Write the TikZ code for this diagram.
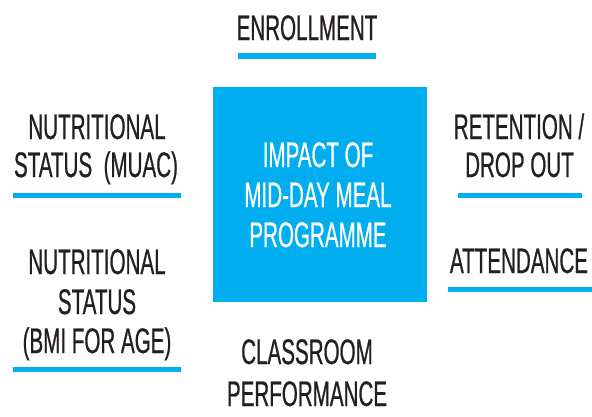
\documentclass[tikz,border=0pt]{standalone}
\usepackage{fontspec}
\newfontfamily\condfont[FakeStretch=0.58,FakeBold=0.6]{Liberation Sans}
\definecolor{mdmblue}{HTML}{00AEEF}
\definecolor{mdmtext}{HTML}{231F20}
\tikzset{
  lbl/.style={anchor=base, inner sep=0pt, text=mdmtext, font=\condfont\fontsize{35.5}{38}\selectfont},
  boxlbl/.style={lbl, text=white},
  bar/.style={fill=mdmblue, draw=none},
}
\begin{document}
\begin{tikzpicture}[x=1pt,y=-1pt]
\useasboundingbox (0,0) rectangle (592,416);
\fill[mdmblue] (213,87) rectangle (427,302);
% centre text
\node[boxlbl] (c1) at (318,167) {IMPACT OF};
\node[boxlbl] (c2) at (318,207) {MID-DAY MEAL};
\node[boxlbl] (c3) at (318,247) {PROGRAMME};
% enrollment
\node[lbl] (enr) at (307,40) {ENROLLMENT};
\fill[bar] (238,53) rectangle (376,59);
% nutritional MUAC
\node[lbl] (mu1) at (97,139) {NUTRITIONAL};
\node[lbl] (mu2) at (96,177) {STATUS\ \ (MUAC)};
\fill[bar] (13,193) rectangle (181,198);
% retention
\node[lbl] (re1) at (519,139) {RETENTION /};
\node[lbl] (re2) at (519.5,177) {DROP OUT};
\fill[bar] (458,193) rectangle (582,198);
% attendance
\node[lbl] (att) at (519,273) {ATTENDANCE};
\fill[bar] (448,287) rectangle (592,292);
% nutritional BMI
\node[lbl] (bm1) at (97,274) {NUTRITIONAL};
\node[lbl] (bm2) at (97,314) {STATUS};
\node[lbl] (bm3) at (97,353) {(BMI FOR AGE)};
\fill[bar] (13,367) rectangle (181,372);
% classroom
\node[lbl] (cl1) at (307,364) {CLASSROOM};
\node[lbl] (cl2) at (307,406) {PERFORMANCE};
\end{tikzpicture}
\end{document}
